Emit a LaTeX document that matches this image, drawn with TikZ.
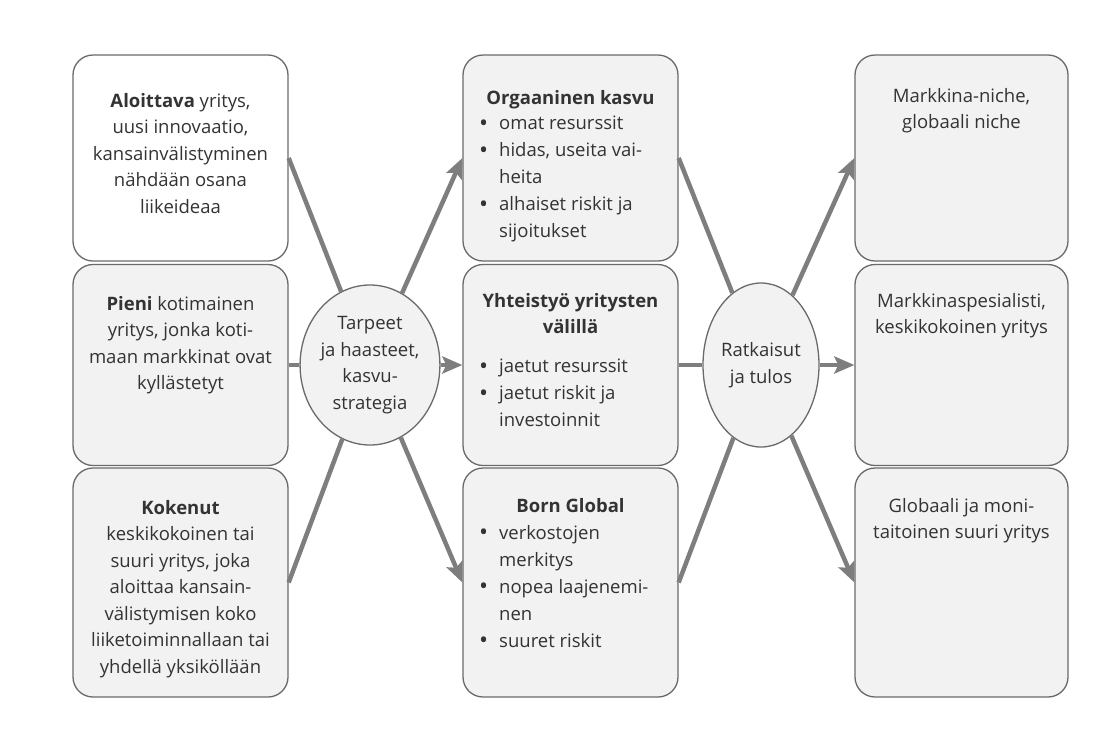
\documentclass[tikz,border=0pt]{standalone}
\usepackage{fontspec}
\setmainfont{Open Sans}
\usetikzlibrary{arrows.meta,shapes.geometric}
\definecolor{ink}{HTML}{333333}
\definecolor{edge}{HTML}{6A6A6A}
\definecolor{link}{HTML}{7E7E7E}
\definecolor{panel}{HTML}{F2F2F2}
% list item marker and hanging indent for wrapped items
\newcommand\blt{\makebox[20pt][l]{\raisebox{-1.5pt}{\fontsize{24}{0}\selectfont\textbullet}}}
\newcommand\ind{\hspace*{20pt}}
\begin{document}
\begin{tikzpicture}[x=1pt,y=-1pt,
  panelbox/.style={draw=edge, line width=1.3pt, rounded corners=20pt, fill=panel, inner sep=0pt},
  hub/.style={ellipse, draw=edge, line width=1.3pt, fill=panel, inner sep=0pt,
    minimum width=116pt, minimum height=160pt, text=ink, align=center,
    font=\fontsize{18.5}{26.5}\selectfont},
  txt/.style={text=ink, font=\fontsize{18.5}{26.5}\selectfont, align=center, inner sep=0pt, anchor=north},
  listtxt/.style={text=ink, font=\fontsize{18.5}{27}\selectfont, align=left, inner sep=0pt, anchor=north west},
  link/.style={draw=link, line width=4.5pt},
  flow/.style={link, -{Stealth[length=20pt,width=17pt,inset=4pt]}}]

% canvas
\fill[white] (0,0) rectangle (1118,732);

% left column: starting situations
\node[panelbox, fill=white, minimum width=215pt, minimum height=206pt] (lA) at (180.5,158) {};
\node[panelbox, minimum width=215pt, minimum height=201pt] (lB) at (180.5,365) {};
\node[panelbox, minimum width=215pt, minimum height=229pt] (lC) at (180.5,582.5) {};

% middle column: growth strategies
\node[panelbox, minimum width=215pt, minimum height=206pt] (mA) at (570.5,158) {};
\node[panelbox, minimum width=215pt, minimum height=201pt] (mB) at (570.5,365) {};
\node[panelbox, minimum width=215pt, minimum height=229pt] (mC) at (570.5,582.5) {};

% right column: outcomes
\node[panelbox, minimum width=213pt, minimum height=206pt] (rA) at (961.5,158) {};
\node[panelbox, minimum width=213pt, minimum height=201pt] (rB) at (961.5,365) {};
\node[panelbox, minimum width=213pt, minimum height=229pt] (rC) at (961.5,582.5) {};

% hubs
\node[hub] (hubL) at (370,365) {Tarpeet\\ja haasteet,\\kasvu-\\strategia};
\node[hub, minimum height=164pt] (hubR) at (761,365) {Ratkaisut\\ja tulos};

% connectors into the first hub
\draw[link] (lA.east) -- (hubL);
\draw[link] (lB.east) -- (hubL);
\draw[link] (lC.east) -- (hubL);
% first hub to strategies
\draw[flow] (hubL) -- (mA.west);
\draw[flow] (hubL) -- (mB.west);
\draw[flow] (hubL) -- (mC.west);
% strategies into the second hub
\draw[link] (mA.east) -- (hubR);
\draw[link] (mB.east) -- (hubR);
\draw[link] (mC.east) -- (hubR);
% second hub to outcomes
\draw[flow] (hubR) -- (rA.west);
\draw[flow] (hubR) -- (rB.west);
\draw[flow] (hubR) -- (rC.west);

% left column texts
\node[txt] (tlA) at (180.5,93) {\textbf{Aloittava} yritys,\\uusi innovaatio,\\kansainvälistyminen\\nähdään osana\\liikeideaa};
\node[txt] (tlB) at (180.5,296) {\textbf{Pieni} kotimainen\\yritys, jonka koti-\\maan markkinat ovat\\kyllästetyt};
\node[txt] (tlC) at (180.5,500) {\textbf{Kokenut}\\keskikokoinen tai\\suuri yritys, joka\\aloittaa kansain-\\välistymisen koko\\liiketoiminnallaan tai\\yhdellä yksiköllään};

% middle column texts
\node[txt] (hmA) at (570.5,90) {\textbf{Orgaaninen kasvu}};
\node[listtxt] (bmA) at (479,116) {\blt omat resurssit\\\blt hidas, useita vai-\\\ind heita\\\blt alhaiset riskit ja\\\ind sijoitukset};
\node[txt] (hmB) at (570.5,293) {\textbf{Yhteistyö yritysten}\\\textbf{välillä}};
\node[listtxt] (bmB) at (479,359) {\blt jaetut resurssit\\\blt jaetut riskit ja\\\ind investoinnit};
\node[txt] (hmC) at (570.5,498) {\textbf{Born Global}};
\node[listtxt] (bmC) at (479,525) {\blt verkostojen\\\ind merkitys\\\blt nopea laajenemi-\\\ind nen\\\blt suuret riskit};

% right column texts
\node[txt] (trA) at (961.5,88) {Markkina-niche,\\globaali niche};
\node[txt] (trB) at (961.5,293) {Markkinaspesialisti,\\keskikokoinen yritys};
\node[txt] (trC) at (961.5,498) {Globaali ja moni-\\taitoinen suuri yritys};
\end{tikzpicture}
\end{document}
